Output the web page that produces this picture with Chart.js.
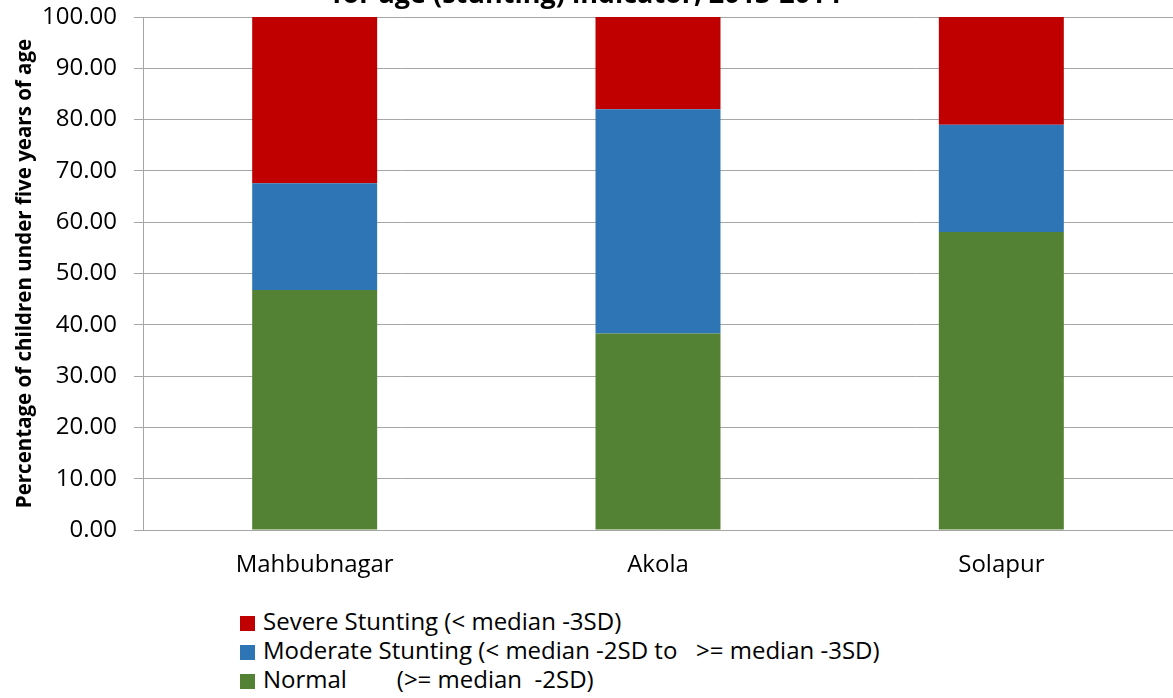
<!DOCTYPE html>
<html lang="en">
<head>
    <meta charset="UTF-8">
    <title>Stunting chart</title>
    <script src="https://cdn.jsdelivr.net/npm/chart.js"></script>
    <style>
        body { margin: 0; background: #fff; }
        #wrap { position: relative; width: 1173px; height: 698px; overflow: hidden; font-family: "Open Sans", sans-serif; }
        #chart { position: absolute; left: 0; top: -21px; }
        #legend { position: absolute; left: 240px; top: 606px; font-size: 24px; color: #000; }
        .row { height: 29px; line-height: 29px; white-space: pre; }
        .box { display: inline-block; width: 15px; height: 15px; margin-right: 8px; vertical-align: -1px; }
    </style>
</head>
<body>
    <div id="wrap">
        <canvas id="chart" width="1173" height="621"></canvas>
        <div id="legend"></div>
    </div>
    <script>
        const districts = ["Mahbubnagar", "Akola", "Solapur"];
        const normal = [46.8, 38.3, 58.1];
        const moderate = [20.8, 43.7, 20.9];
        const severe = [32.4, 18.0, 21.0];

        const seriesNames = [
            "Normal        (>= median  -2SD)",
            "Moderate Stunting (< median -2SD to   >= median -3SD)",
            "Severe Stunting (< median -3SD)"
        ];
        const seriesColors = ["#548235", "#2E75B6", "#C00000"];
        const seriesData = [normal, moderate, severe];

        const gridColor = "#a6a6a6";
        const font = "Open Sans";

        const chart = new Chart(document.getElementById("chart"), {
            type: "bar",
            data: {
                labels: districts,
                datasets: seriesData.map((d, i) => ({
                    label: seriesNames[i],
                    data: d,
                    backgroundColor: seriesColors[i],
                    borderWidth: 0,
                    categoryPercentage: 1,
                    barPercentage: 0.364
                }))
            },
            options: {
                responsive: false,
                animation: false,
                layout: { padding: 0 },
                plugins: {
                    legend: { display: false },
                    tooltip: { enabled: false },
                    title: {
                        display: true,
                        text: "for age (stunting) indicator, 2013-2014",
                        color: "#000",
                        font: { family: font, size: 27, weight: "bold", lineHeight: 1.2 },
                        padding: { top: 0, bottom: 5.6 }
                    }
                },
                scales: {
                    x: {
                        stacked: true,
                        grid: { display: false, drawTicks: false },
                        border: { color: gridColor },
                        ticks: { color: "#000", padding: 21, font: { family: font, size: 24 } },
                        afterFit: s => { s.height = 70; }
                    },
                    y: {
                        stacked: true,
                        min: 0,
                        max: 100,
                        ticks: {
                            stepSize: 10,
                            color: "#000",
                            padding: 17,
                            font: { family: font, size: 24 },
                            callback: v => v.toFixed(2)
                        },
                        grid: { color: gridColor, tickLength: 9 },
                        border: { color: gridColor },
                        title: {
                            display: true,
                            text: "Percentage of children under five years of age",
                            color: "#000",
                            font: { family: font, size: 20.5, weight: "bold" },
                            padding: { top: 13, bottom: 4 }
                        },
                        afterFit: s => { s.width = 143; }
                    }
                }
            }
        });

        // legend listed top to bottom in reverse stack order
        const legend = document.getElementById("legend");
        for (let i = seriesNames.length - 1; i >= 0; i--) {
            const row = document.createElement("div");
            row.className = "row";
            const box = document.createElement("span");
            box.className = "box";
            box.style.background = seriesColors[i];
            row.appendChild(box);
            row.appendChild(document.createTextNode(seriesNames[i]));
            legend.appendChild(row);
        }
    </script>
</body>
</html>
